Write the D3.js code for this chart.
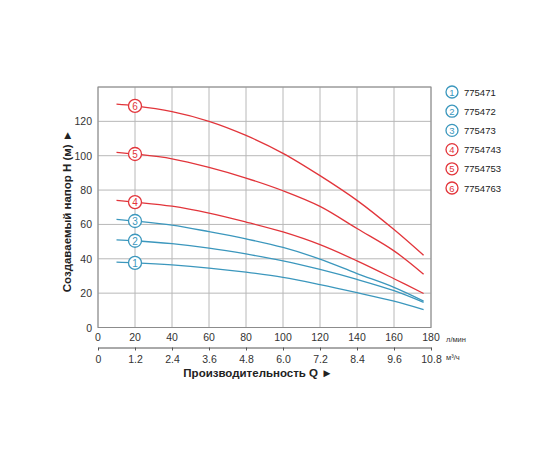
<!DOCTYPE html>
<html>
<head>
<meta charset="utf-8">
<script src="https://cdn.jsdelivr.net/npm/d3@7"></script>
<style>
  body { margin: 0; background: #fff; }
  text { font-family: "Liberation Sans", Arial, sans-serif; }
</style>
</head>
<body>
<div id="chart"></div>
<script>
// flow points, l/min
var flowQ = [10, 20, 40, 60, 80, 100, 120, 140, 160, 176];
// head H (m) for each pump
var pump1 = [38, 37.6, 36.4, 34.6, 32.2, 29.2, 25, 20.3, 15.3, 10.4];
var pump2 = [51, 50.5, 48.8, 46.2, 42.8, 38.8, 33.8, 28, 21.4, 14.6];
var pump3 = [63, 62, 59.6, 55.8, 51.6, 46.6, 39.8, 31.4, 23.4, 15.4];
var pump4 = [74, 73, 70.6, 66.6, 61.4, 55.6, 48.2, 38.8, 28.4, 19.8];
var pump5 = [102, 101, 98.2, 93.2, 87, 79.6, 70.5, 57.6, 44.6, 31];
var pump6 = [130, 129, 125.6, 120, 111.8, 101.4, 88.4, 74, 57, 42];
var pumpNames = ["775471", "775472", "775473", "7754743", "7754753", "7754763"];
var pumpColors = ["#3b97bd", "#3b97bd", "#3b97bd", "#e2353b", "#e2353b", "#e2353b"];
var flowTicks = [0, 20, 40, 60, 80, 100, 120, 140, 160, 180];
var flowM3Ticks = ["0", "1.2", "2.4", "3.6", "4.8", "6.0", "7.2", "8.4", "9.6", "10.8"];
var headTicks = [0, 20, 40, 60, 80, 100, 120];

var allPumps = [pump1, pump2, pump3, pump4, pump5, pump6];

var chart_width = 560;
var chart_height = 460;

var svg = d3.select('#chart')
    .append('svg')
    .attr('width', chart_width)
    .attr('height', chart_height);

var x = d3.scaleLinear().domain([0, 180]).range([98, 431]);
var y = d3.scaleLinear().domain([0, 140]).range([327.5, 87]);

// grid
svg.append('g').selectAll('line.v')
    .data(flowTicks)
    .enter().append('line')
    .attr('x1', d => x(d)).attr('x2', d => x(d))
    .attr('y1', y(0)).attr('y2', y(140))
    .attr('stroke', '#b8b8b8').attr('stroke-width', 1);

svg.append('g').selectAll('line.h')
    .data(headTicks.concat([140]))
    .enter().append('line')
    .attr('x1', x(0)).attr('x2', x(180))
    .attr('y1', d => y(d)).attr('y2', d => y(d))
    .attr('stroke', '#b8b8b8').attr('stroke-width', 1);

// frame
svg.append('rect')
    .attr('x', x(0)).attr('y', y(140))
    .attr('width', x(180) - x(0)).attr('height', y(0) - y(140))
    .attr('fill', 'none').attr('stroke', '#8c8c8c').attr('stroke-width', 1);

// y tick labels
svg.append('g').selectAll('text')
    .data(headTicks)
    .enter().append('text')
    .attr('x', x(0) - 6)
    .attr('y', d => y(d) + 4)
    .attr('text-anchor', 'end')
    .attr('font-size', 10.5)
    .attr('fill', '#333')
    .text(d => d);

// x axis l/min labels
svg.append('g').selectAll('text')
    .data(flowTicks)
    .enter().append('text')
    .attr('x', d => x(d))
    .attr('y', 341)
    .attr('text-anchor', 'middle')
    .attr('font-size', 10.5)
    .attr('fill', '#333')
    .text(d => d);

svg.append('text').attr('x', 446).attr('y', 342)
    .attr('font-size', 7.5).attr('fill', '#333').text('л/мин');

// second axis m3/h
var x2 = d3.scaleLinear().domain([0, 10.8]).range([x(0), x(180)]);
var axis2 = d3.axisBottom(x2)
    .tickValues(flowM3Ticks.map(Number))
    .tickFormat((d, i) => flowM3Ticks[i])
    .tickSize(3)
    .tickPadding(5)
    .tickSizeOuter(0);
var g2 = svg.append('g').attr('transform', 'translate(0,347.5)').call(axis2);
g2.select('.domain').attr('stroke', '#555');
g2.selectAll('.tick line').attr('stroke', '#555');
g2.selectAll('.tick text')
    .attr('font-size', 10.5)
    .attr('fill', '#333')
    .attr('font-family', '"Liberation Sans", Arial, sans-serif');

svg.append('text').attr('x', 446).attr('y', 360)
    .attr('font-size', 7.5).attr('fill', '#333').text('м³/ч');

// titles
svg.append('text')
    .attr('x', 258).attr('y', 377)
    .attr('text-anchor', 'middle')
    .attr('font-size', 11.5).attr('font-weight', 'bold').attr('fill', '#222')
    .text('Производительность Q ►');

svg.append('text')
    .attr('transform', 'translate(71,211) rotate(-90)')
    .attr('text-anchor', 'middle')
    .attr('font-size', 11.5).attr('font-weight', 'bold').attr('fill', '#222')
    .text('Создаваемый напор H (м) ►');

// curves
var line = d3.line()
    .x((d, i) => x(flowQ[i]))
    .y(d => y(d))
    .curve(d3.curveCatmullRom);

svg.append('g').selectAll('path')
    .data(allPumps)
    .enter().append('path')
    .attr('d', d => line(d))
    .attr('fill', 'none')
    .attr('stroke', (d, i) => pumpColors[i])
    .attr('stroke-width', 1.3);

// markers at Q=20
var markers = svg.append('g').selectAll('g')
    .data(allPumps)
    .enter().append('g')
    .attr('transform', d => 'translate(' + x(flowQ[1]) + ',' + y(d[1]) + ')');
markers.append('circle')
    .attr('r', 6.5)
    .attr('fill', '#fff')
    .attr('stroke', (d, i) => pumpColors[i])
    .attr('stroke-width', 1.3);
markers.append('text')
    .attr('text-anchor', 'middle')
    .attr('y', 3.8)
    .attr('font-size', 10)
    .attr('fill', (d, i) => pumpColors[i])
    .text((d, i) => i + 1);

// legend
var legend = svg.append('g').selectAll('g')
    .data(pumpNames)
    .enter().append('g')
    .attr('transform', (d, i) => 'translate(452,' + (92 + i * 19.2) + ')');
legend.append('circle')
    .attr('r', 6)
    .attr('fill', '#fff')
    .attr('stroke', (d, i) => pumpColors[i])
    .attr('stroke-width', 1.3);
legend.append('text')
    .attr('text-anchor', 'middle')
    .attr('y', 3.6)
    .attr('font-size', 9.5)
    .attr('fill', (d, i) => pumpColors[i])
    .text((d, i) => i + 1);
legend.append('text')
    .attr('x', 12)
    .attr('y', 3.5)
    .attr('font-size', 9.5)
    .attr('fill', '#222')
    .text(d => d);
</script>
</body>
</html>
